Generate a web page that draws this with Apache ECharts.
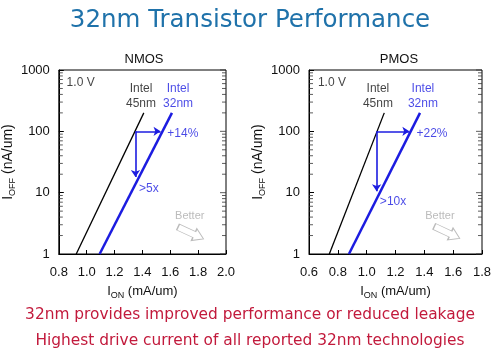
<!DOCTYPE html>
<html>
<head>
<meta charset="utf-8">
<script src="https://cdn.jsdelivr.net/npm/echarts@6/dist/echarts.min.js"></script>
<style>
  html, body { margin: 0; padding: 0; background: #fff; }
  #chart { width: 500px; height: 351px; }
</style>
</head>
<body>
<div id="chart"></div>
<script>
// I-on vs I-off lines (x: mA/um, y: nA/um)
const nmos45 = [[0.925, 1], [1.41, 200]]
const nmos32 = [[1.093, 1], [1.612, 200]]
const pmos45 = [[0.741, 1], [1.122, 200]]
const pmos32 = [[0.877, 1], [1.37, 200]]

// arrows: drive gain (horizontal) and leakage cut (vertical)
const nmosGain = [[1.35, 100], [1.53, 100]]
const nmosLeak = [[1.35, 100], [1.35, 18]]
const pmosGain = [[1.069, 100], [1.296, 100]]
const pmosLeak = [[1.069, 100], [1.069, 10.5]]

// axis ranges / ticks
const nmosRange = [0.8, 2.0]
const pmosRange = [0.6, 1.8]
const yRange = [1, 1000]
const majorTicks = [1, 10, 100, 1000]
const minorTicks = [2, 3, 4, 5, 6, 7, 8, 9, 20, 30, 40, 50, 60, 70, 80, 90, 200, 300, 400, 500, 600, 700, 800, 900]

// annotations [x, y, text, kind]
const nmosNotes = [
  [0.856, 630, '1.0 V', 'volt'],
  [1.39, 370, 'Intel\n45nm', 'old'],
  [1.656, 370, 'Intel\n32nm', 'new'],
  [1.69, 93, '+14%', 'new'],
  [1.446, 11.4, '>5x', 'new'],
  [1.74, 4.1, 'Better', 'better']
]
const pmosNotes = [
  [0.662, 630, '1.0 V', 'volt'],
  [1.078, 370, 'Intel\n45nm', 'old'],
  [1.39, 370, 'Intel\n32nm', 'new'],
  [1.453, 93, '+22%', 'new'],
  [1.183, 7.0, '>10x', 'new'],
  [1.508, 4.1, 'Better', 'better']
]
const betterArrow = [[1.747, 2.2], [1.557, 2.25]]

const BLUE = '#1c1ce0'
const FONT = 'Liberation Sans'

const chart = echarts.init(document.getElementById('chart'))

function xAxis (idx, range) {
  return {
    type: 'value',
    gridIndex: idx,
    min: range[0],
    max: range[1],
    interval: 0.2,
    axisLine: { show: true, lineStyle: { color: '#000', width: 1 } },
    axisTick: { show: true, inside: true, length: 4, lineStyle: { color: '#000' } },
    splitLine: { show: false },
    axisLabel: {
      color: '#111', fontSize: 13, fontFamily: FONT, margin: 12,
      formatter: (v) => v.toFixed(1)
    },
    name: '{a|I}{b|ON}{a| (mA/um)}',
    nameLocation: 'middle',
    nameGap: 28,
    nameTextStyle: {
      rich: {
        a: { fontSize: 13, fontFamily: FONT, color: '#111', lineHeight: 18 },
        b: { fontSize: 9, fontFamily: FONT, color: '#111', lineHeight: 8, verticalAlign: 'bottom' }
      }
    }
  }
}

function yAxis (idx, gap) {
  return {
    type: 'log',
    logBase: 10,
    gridIndex: idx,
    min: yRange[0],
    max: yRange[1],
    axisLine: { show: true, lineStyle: { color: '#000', width: 1 } },
    axisTick: { show: true, inside: true, length: 5, lineStyle: { color: '#000' } },
    splitLine: { show: false },
    axisLabel: {
      color: '#111', fontSize: 13, fontFamily: FONT, margin: 9,
      formatter: (v) => String(Math.round(v))
    },
    name: '{a|I}{b|OFF}{a| (nA/um)}',
    nameLocation: 'middle',
    nameGap: gap,
    nameTextStyle: {
      rich: {
        a: { fontSize: 14, fontFamily: FONT, color: '#111', lineHeight: 18 },
        b: { fontSize: 9, fontFamily: FONT, color: '#111', lineHeight: 8, verticalAlign: 'bottom' }
      }
    }
  }
}

function tickSeries (idx, range) {
  const pts = []
  minorTicks.forEach(v => {
    pts.push({ value: [range[0], v], symbolOffset: [2, 0], symbolSize: [4, 1] })
    pts.push({ value: [range[1], v], symbolOffset: [-2, 0], symbolSize: [4, 1] })
  })
  majorTicks.forEach(v => {
    pts.push({ value: [range[1], v], symbolOffset: [-3, 0], symbolSize: [6, 1] })
  })
  return {
    type: 'scatter',
    xAxisIndex: idx,
    yAxisIndex: idx,
    symbol: 'rect',
    clip: false,
    silent: true,
    itemStyle: { color: '#333' },
    data: pts,
    z: 1
  }
}

function lineSeries (idx, data, color, width) {
  return {
    type: 'line',
    xAxisIndex: idx,
    yAxisIndex: idx,
    data: data,
    symbol: 'none',
    lineStyle: { color: color, width: width },
    z: 3
  }
}

function arrowSeries (idx, a, b) {
  return {
    type: 'lines',
    coordinateSystem: 'cartesian2d',
    xAxisIndex: idx,
    yAxisIndex: idx,
    symbol: ['none', 'arrow'],
    symbolSize: 7,
    lineStyle: { color: BLUE, width: 1.6, opacity: 1 },
    data: [{ coords: a }, { coords: b }],
    z: 4
  }
}

const noteColor = { volt: '#111', old: '#111', new: BLUE, better: '#aaa' }

function noteSeries (idx, notes) {
  return {
    type: 'scatter',
    xAxisIndex: idx,
    yAxisIndex: idx,
    symbolSize: 0,
    silent: true,
    clip: false,
    data: notes.map(n => ({
      value: [n[0], n[1]],
      label: {
        show: true,
        position: 'inside',
        align: n[3] === 'volt' ? 'left' : 'center',
        formatter: n[2],
        color: noteColor[n[3]],
        fontSize: n[3] === 'better' ? 11 : 12,
        lineHeight: 15,
        fontFamily: FONT
      }
    })),
    z: 5
  }
}

function betterSeries (idx, pos) {
  return {
    type: 'scatter',
    xAxisIndex: idx,
    yAxisIndex: idx,
    silent: true,
    symbol: 'path://M0,3L14,3L14,0L22,6L14,12L14,9L0,9Z',
    symbolSize: [28, 13],
    symbolRotate: -25,
    itemStyle: { color: '#fff', borderColor: '#aaa', borderWidth: 1 },
    data: [pos],
    z: 2
  }
}

const option = {
  backgroundColor: '#fff',
  animation: false,
  title: [
    {
      text: '32nm Transistor Performance',
      left: 'center',
      top: 3,
      textStyle: { color: '#1f72aa', fontSize: 24.5, fontWeight: 'normal', fontFamily: 'DejaVu Sans' }
    },
    {
      text: 'NMOS', left: 139, top: 48, textAlign: 'center',
      textStyle: { color: '#111', fontSize: 13, fontWeight: 'normal', fontFamily: FONT }
    },
    {
      text: 'PMOS', left: 394, top: 48, textAlign: 'center',
      textStyle: { color: '#111', fontSize: 13, fontWeight: 'normal', fontFamily: FONT }
    },
    {
      text: '32nm provides improved performance or reduced leakage',
      left: 'center', top: 302,
      textStyle: { color: '#c21a3c', fontSize: 15.4, fontWeight: 'normal', fontFamily: 'DejaVu Sans' }
    },
    {
      text: 'Highest drive current of all reported 32nm technologies',
      left: 'center', top: 328,
      textStyle: { color: '#c21a3c', fontSize: 15.4, fontWeight: 'normal', fontFamily: 'DejaVu Sans' }
    }
  ],
  grid: [
    { left: 55, top: 70, width: 171, height: 184, show: true, borderColor: '#000', borderWidth: 1 },
    { left: 309, top: 70, width: 173, height: 184, show: true, borderColor: '#000', borderWidth: 1 }
  ],
  xAxis: [xAxis(0, nmosRange), xAxis(1, pmosRange)],
  yAxis: [yAxis(0, 28), yAxis(1, 32)],
  series: [
    tickSeries(0, nmosRange),
    tickSeries(1, pmosRange),
    lineSeries(0, nmos45, '#000', 1.3),
    lineSeries(0, nmos32, BLUE, 2.5),
    lineSeries(1, pmos45, '#000', 1.3),
    lineSeries(1, pmos32, BLUE, 2.5),
    arrowSeries(0, nmosGain, nmosLeak),
    arrowSeries(1, pmosGain, pmosLeak),
    noteSeries(0, nmosNotes),
    noteSeries(1, pmosNotes),
    betterSeries(0, betterArrow[0]),
    betterSeries(1, betterArrow[1])
  ]
}

chart.setOption(option)
</script>
</body>
</html>
